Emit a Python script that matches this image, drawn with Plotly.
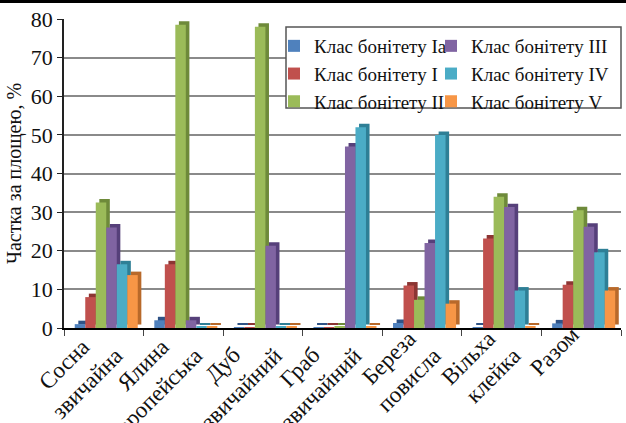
import plotly.graph_objects as go

NB = "\u00a0"
categories = ["Сосна" + NB * 3 + "<br>звичайна", "Ялина" + NB * 3 + "<br>європейська",
              "Дуб" + NB * 5 + "<br>звичайний", "Граб" + NB * 5 + "<br>звичайний",
              "Береза" + NB * 1 + "<br>повисла", "Вільха" + NB * 1 + "<br>клейка", "Разом"]
series_names = ["Клас бонітету Ia", "Клас бонітету I", "Клас бонітету II",
                "Клас бонітету III", "Клас бонітету IV", "Клас бонітету V"]
class_Ia = [1.0, 2.0, 0.2, 0.2, 1.3, 0.2, 1.2]
class_I = [8.0, 16.5, 0.2, 0.2, 11.0, 23.2, 11.2]
class_II = [32.5, 78.5, 78.0, 0.3, 7.3, 34.0, 30.5]
class_III = [26.0, 2.0, 21.3, 47.0, 22.0, 31.3, 26.2]
class_IV = [16.5, 0.3, 0.3, 52.0, 50.0, 9.7, 19.6]
class_V = [13.7, 0.3, 0.3, 0.3, 6.3, 0.3, 9.7]
series_values = [class_Ia, class_I, class_II, class_III, class_IV, class_V]

front_colors = ["#4F81BD", "#C0504D", "#9BBB59", "#8064A2", "#4BACC6", "#F79646"]
side_colors = ["#2F5386", "#8C3533", "#6E8A3A", "#56407A", "#2E7F96", "#B8692A"]

FONT = "Liberation Serif"
W, H = 626, 423
ML, MR, MT, MB = 64, 5, 19, 95
PW, PH = W - ML - MR, H - MT - MB

bar_w = 0.132
start = -0.365
dx = 0.045
dy = 0.9

fig = go.Figure()
# side/top faces (pseudo 3D)
for i, (name, vals) in enumerate(zip(series_names, series_values)):
    fig.add_trace(go.Bar(
        x=categories, y=vals, base=dy, width=bar_w, offset=start + i * bar_w + dx,
        marker=dict(color=side_colors[i], line=dict(width=0)),
        showlegend=False, hoverinfo="skip"))
# front faces
for i, (name, vals) in enumerate(zip(series_names, series_values)):
    fig.add_trace(go.Bar(
        x=categories, y=vals, width=bar_w, offset=start + i * bar_w,
        name=name, marker=dict(color=front_colors[i], line=dict(width=0)),
        legend="legend" if i < 3 else "legend2"))

legend_common = dict(
    font=dict(family=FONT, size=19, color="#111"),
    bgcolor="rgba(0,0,0,0)", borderwidth=0,
    xanchor="left", yanchor="top",
    traceorder="normal",
    itemwidth=30, indentation=-12,
)
fig.update_layout(
    width=W, height=H,
    margin=dict(l=ML, r=MR, t=MT, b=MB),
    paper_bgcolor="white", plot_bgcolor="white",
    barmode="overlay",
    font=dict(family=FONT, color="#111"),
    legend=dict(x=(286 - ML) / PW, y=(328 - 27) / PH, **legend_common),
    legend2=dict(x=(443 - ML) / PW, y=(328 - 27) / PH, **legend_common),
    xaxis=dict(
        tickangle=-45, tickfont=dict(family=FONT, size=23, color="#111"),
        ticklabelstandoff=-18, ticklabelshift=-9, automargin=False,
        showline=True, linecolor="black", linewidth=2,
        ticks="outside", ticklen=6, tickcolor="#444", tickson="boundaries",
        showgrid=False, range=[-0.5, 6.5],
    ),
    yaxis=dict(
        range=[0, 80], dtick=10, automargin=False,
        tickfont=dict(family=FONT, size=22, color="#111"),
        showline=True, linecolor="#222", linewidth=1.5,
        ticks="outside", ticklen=5, tickcolor="#222",
        showgrid=True, gridcolor="#8a8a8a", gridwidth=1.5,
        zeroline=False,
        title=dict(text="Частка за площею, %", font=dict(family=FONT, size=20, color="#111"), standoff=4),
    ),
    shapes=[
        dict(type="line", xref="paper", yref="paper",
             x0=-ML / PW, x1=1 + MR / PW, y0=1 + (MT - 1.5) / PH, y1=1 + (MT - 1.5) / PH,
             line=dict(color="black", width=3)),
        dict(type="rect", xref="paper", yref="paper", layer="above",
             x0=(286 - ML) / PW, x1=(621 - ML) / PW, y0=(328 - 108) / PH, y1=(328 - 27) / PH,
             line=dict(color="#555", width=1.5), fillcolor="white"),
    ],
)

fig.write_html("out.html", config={"displayModeBar": False},
               post_script="document.body.style.margin='0';document.body.style.overflow='hidden';")
